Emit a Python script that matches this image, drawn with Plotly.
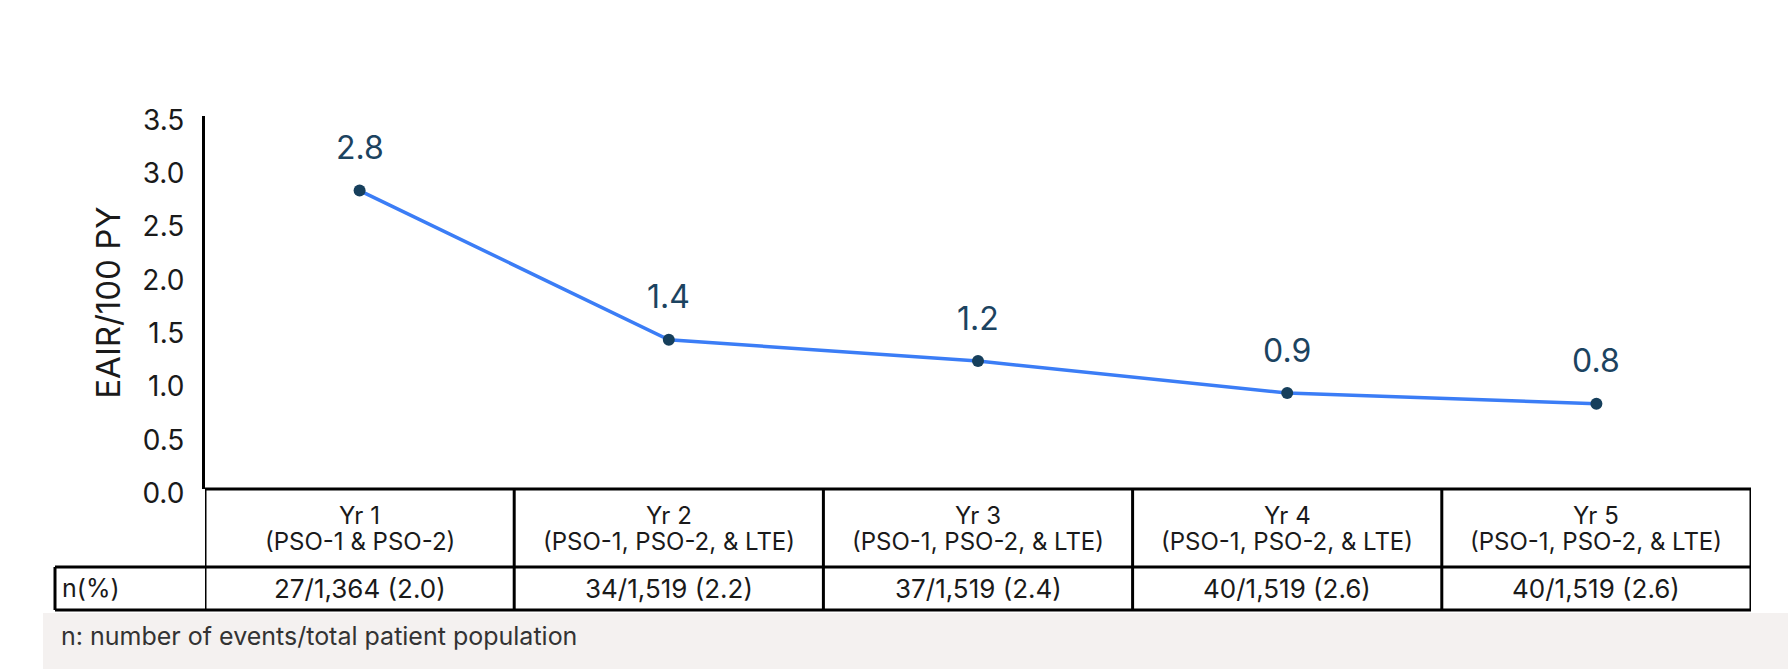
import plotly.graph_objects as go

# ---------------- data ----------------
years = ["Yr 1", "Yr 2", "Yr 3", "Yr 4", "Yr 5"]
studies = ["(PSO-1 & PSO-2)", "(PSO-1, PSO-2, & LTE)", "(PSO-1, PSO-2, & LTE)",
           "(PSO-1, PSO-2, & LTE)", "(PSO-1, PSO-2, & LTE)"]
eair = [2.8, 1.4, 1.2, 0.9, 0.8]
n_pct = ["27/1,364 (2.0)", "34/1,519 (2.2)", "37/1,519 (2.4)",
         "40/1,519 (2.6)", "40/1,519 (2.6)"]
row_label = "n(%)"
y_title = "EAIR/100 PY"
footnote = "n: number of events/total patient population"
y_ticks = [0.0, 0.5, 1.0, 1.5, 2.0, 2.5, 3.0, 3.5]

# ---------------- layout geometry ----------------
W, H = 1788, 669
L, R, T, B = 205, 37, 116, 180
plot_w = W - L - R
plot_h = H - T - B
FONT = "Inter"

def py(p):  # pixel y -> paper y
    return (H - B - p) / plot_h

def px(p):  # pixel x -> paper x
    return (p - L) / plot_w

LINE_C = "#3B7DF6"
MARK_C = "#163F5C"
LABEL_C = "#1C4360"
TXT_C = "#1a1a1a"
LW = 3

fig = go.Figure()
fig.add_trace(go.Scatter(
    x=years, y=eair, mode="lines+markers",
    line=dict(color=LINE_C, width=3.5),
    marker=dict(color=MARK_C, size=12),
    hoverinfo="x+y", showlegend=False, cliponaxis=False,
))

shapes = []
# footnote background
shapes.append(dict(type="rect", xref="paper", yref="paper", x0=px(43), x1=px(W + 5),
                   y0=py(613), y1=py(H + 5), fillcolor="#F4F1F0", line=dict(width=0), layer="below"))
# table top border (x axis baseline)
shapes.append(dict(type="line", xref="paper", yref="paper", x0=0, x1=1, y0=0, y1=0,
                   line=dict(color="black", width=LW)))
# header / data row separators
for yy in (567, 610):
    shapes.append(dict(type="line", xref="paper", yref="paper", x0=px(55), x1=1,
                       y0=py(yy), y1=py(yy), line=dict(color="black", width=LW)))
# column separators
for i in range(len(years) + 1):
    shapes.append(dict(type="line", xref="x", yref="paper", x0=i - 0.5, x1=i - 0.5,
                       y0=0, y1=py(610), line=dict(color="black", width=LW)))
# left border of the n(%) cell
shapes.append(dict(type="line", xref="paper", yref="paper", x0=px(55), x1=px(55),
                   y0=py(567), y1=py(610), line=dict(color="black", width=LW)))

annotations = []
for yr, val in zip(years, eair):
    annotations.append(dict(x=yr, y=val, xref="x", yref="y", text=f"{val:.1f}",
                            showarrow=False, yshift=43, yanchor="middle",
                            font=dict(family=FONT, size=32, color=LABEL_C)))
for yr, st, npc in zip(years, studies, n_pct):
    annotations.append(dict(x=yr, y=py(515), xref="x", yref="paper", text=yr,
                            showarrow=False, yanchor="middle",
                            font=dict(family=FONT, size=24, color=TXT_C)))
    annotations.append(dict(x=yr, y=py(541), xref="x", yref="paper", text=st,
                            showarrow=False, yanchor="middle",
                            font=dict(family=FONT, size=24, color=TXT_C)))
    annotations.append(dict(x=yr, y=py(588), xref="x", yref="paper", text=npc,
                            showarrow=False, yanchor="middle",
                            font=dict(family=FONT, size=26, color=TXT_C)))
annotations.append(dict(x=px(60), y=py(588), xref="paper", yref="paper", text=row_label,
                        showarrow=False, xanchor="left", yanchor="middle",
                        font=dict(family=FONT, size=25, color=TXT_C)))
annotations.append(dict(x=px(59), y=py(636), xref="paper", yref="paper", text=footnote,
                        showarrow=False, xanchor="left", yanchor="middle",
                        font=dict(family=FONT, size=25, color="#333333")))

fig.update_layout(
    width=W, height=H,
    margin=dict(l=L, r=R, t=T, b=B, pad=0),
    paper_bgcolor="white", plot_bgcolor="white",
    font=dict(family=FONT, color=TXT_C),
    xaxis=dict(type="category", range=[-0.5, len(years) - 0.5], showticklabels=False,
               showgrid=False, zeroline=False, showline=False, ticks=""),
    yaxis=dict(range=[0, 3.5], tickvals=y_ticks, ticktext=[f"{v:.1f}" for v in y_ticks],
               showgrid=False, zeroline=False, showline=True, linecolor="black",
               linewidth=LW, ticks="", ticklabelstandoff=12, ticklabelshift=4,
               tickfont=dict(family=FONT, size=28, color=TXT_C),
               title=dict(text=y_title, standoff=12,
                          font=dict(family=FONT, size=33, color=TXT_C))),
    shapes=shapes, annotations=annotations,
)

fig.write_html(
    "out.html",
    config={"displayModeBar": False},
    post_script="document.body.style.margin='0';document.body.style.overflow='hidden';",
)
